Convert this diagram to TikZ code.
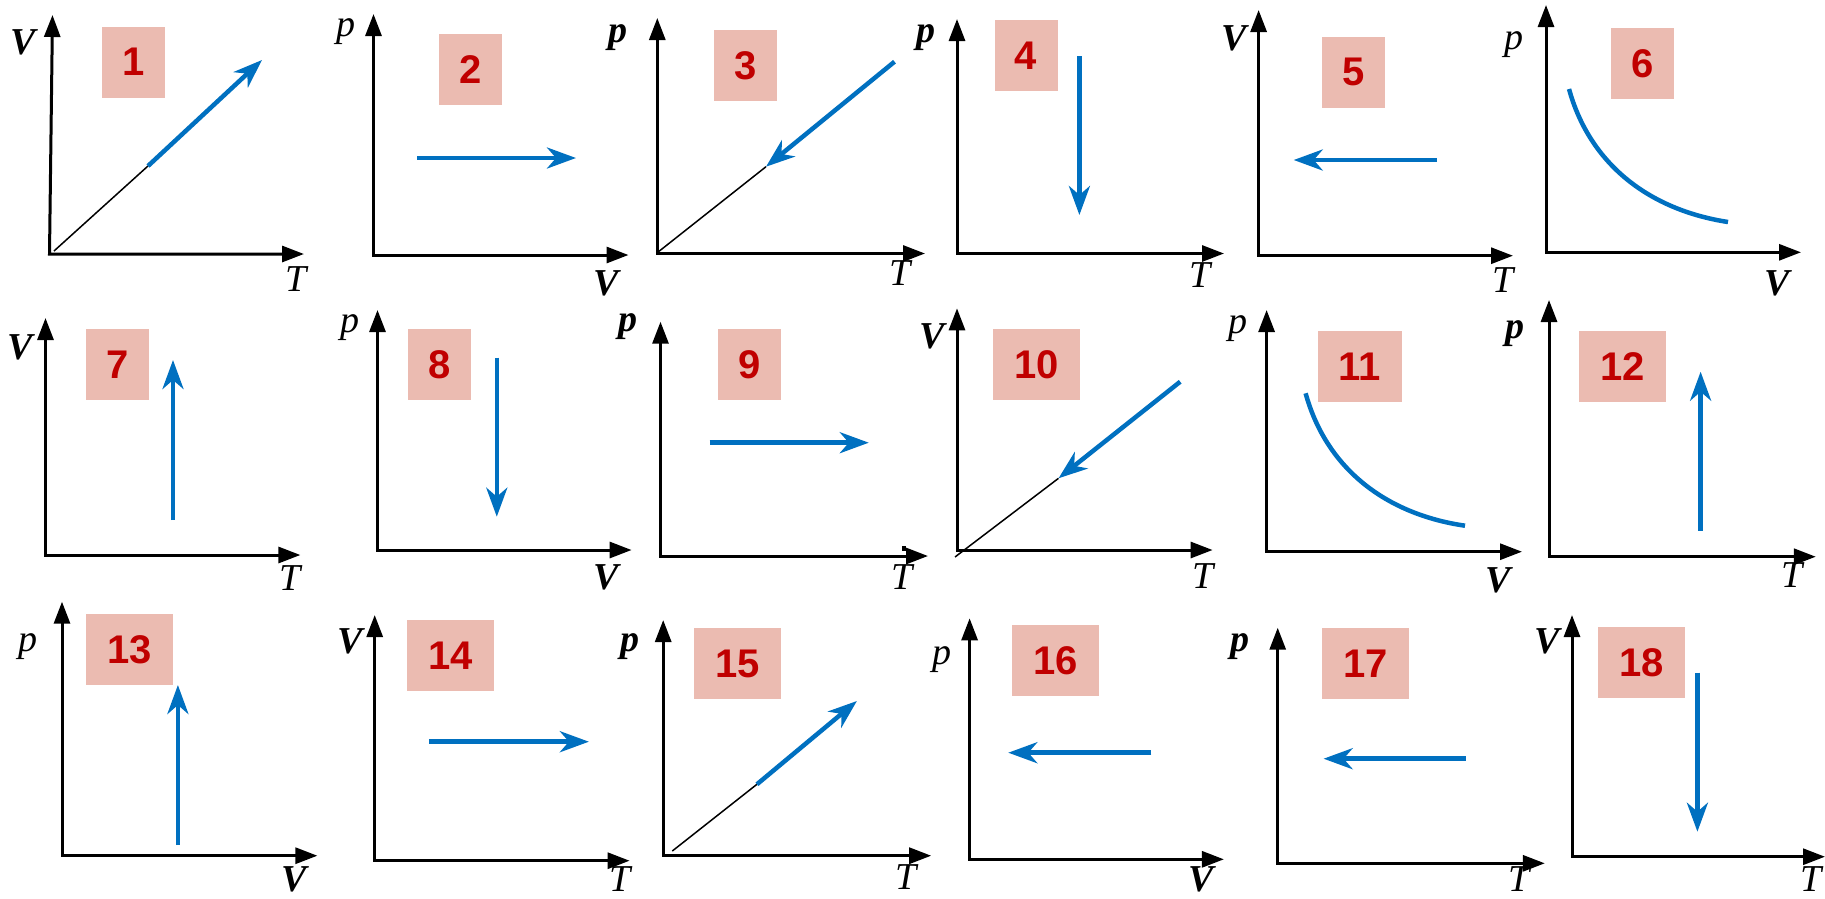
\documentclass[tikz,border=0pt]{standalone}
\usepackage{fontspec}
\newfontfamily\numfamily{Liberation Sans}
\newfontfamily\labfamily{Liberation Serif}
\usetikzlibrary{arrows.meta}
\definecolor{pblue}{HTML}{0070C0}
\definecolor{boxpink}{HTML}{EBBBB1}
\definecolor{numred}{HTML}{C00000}
\tikzset{
  axis/.style={line width=3pt, line join=miter, black,
    {Triangle[length=22pt,width=16pt]}-{Triangle[length=22pt,width=16pt]}},
  proc/.style={line width=4.5pt, pblue, -{Stealth[length=29pt,width=21pt,inset=9pt]}},
  curv/.style={line width=4.5pt, pblue},
  guide/.style={line width=1.5pt, black},
  numbox/.style={fill=boxpink, minimum width=63pt, minimum height=71pt, inner sep=0pt,
    text=numred, font=\numfamily\bfseries\fontsize{40}{48}\selectfont},
  widebox/.style={numbox, minimum width=87pt},
  lab/.style={inner sep=0pt, font=\labfamily\itshape\fontsize{38}{44}\selectfont},
  blab/.style={inner sep=0pt, font=\labfamily\itshape\bfseries\fontsize{38}{44}\selectfont}
}
\newcommand\mkaxes[4]{%
  \coordinate (#1o) at #2; \coordinate (#1y) at #3; \coordinate (#1x) at #4;
  \draw[axis] (#1y) -- (#1o) -- (#1x);}
\begin{document}
\begin{tikzpicture}[x=1pt,y=-1pt]
\useasboundingbox (0,0) rectangle (1825,898);
% ---------- Row 1 ----------
% Panel 1
\mkaxes{a1}{(49.5,254)}{(52.5,15)}{(304,254)}
\node[blab] (a1v) at (23,42.5) {V};
\node[lab] (a1t) at (296,279) {T};
\node[numbox] (b1) at (133.4,62.2) {1};
\coordinate (g1a) at (54,251); \coordinate (g1b) at (148,166); \coordinate (g1c) at (262,60);
\draw[guide] (g1a) -- (g1b);
\draw[proc] (g1b) -- (g1c);
% Panel 2
\mkaxes{a2}{(373.5,255)}{(373.5,14)}{(628.5,255)}
\node[lab] (a2p) at (346,32) {p};
\node[blab] (a2v) at (606,283) {V};
\node[numbox] (b2) at (470.4,69.5) {2};
\coordinate (g2a) at (417,158); \coordinate (g2b) at (576,158);
\draw[proc] (g2a) -- (g2b);
% Panel 3
\mkaxes{a3}{(657.3,253.5)}{(657.3,18)}{(925,253.5)}
\node[blab] (a3p) at (618,38) {p};
\node[lab] (a3t) at (900,273) {T};
\node[numbox] (b3) at (745.4,65.9) {3};
\coordinate (g3a) at (658.5,251.7); \coordinate (g3b) at (766,166.7); \coordinate (g3c) at (894.5,61.7);
\draw[guide] (g3a) -- (g3b);
\draw[proc] (g3c) -- (g3b);
% Panel 4
\mkaxes{a4}{(957,253.5)}{(957,19)}{(1224,253.5)}
\node[blab] (a4p) at (926,38) {p};
\node[lab] (a4t) at (1200,275) {T};
\node[numbox] (b4) at (1026.1,55.4) {4};
\coordinate (g4a) at (1079.4,56); \coordinate (g4b) at (1079.4,215);
\draw[proc] (g4a) -- (g4b);
% Panel 5
\mkaxes{a5}{(1258.6,255.7)}{(1258.6,10)}{(1513,255.7)}
\node[blab] (a5v) at (1234,38) {V};
\node[lab] (a5t) at (1503,280) {T};
\node[numbox] (b5) at (1353.5,72.2) {5};
\coordinate (g5a) at (1437,160); \coordinate (g5b) at (1293.7,160);
\draw[proc] (g5a) -- (g5b);
% Panel 6
\mkaxes{a6}{(1546,252.3)}{(1546,5)}{(1801,252.3)}
\node[lab] (a6p) at (1514,45) {p};
\node[blab] (a6v) at (1777,283) {V};
\node[numbox] (b6) at (1642.2,63.8) {6};
\coordinate (g6a) at (1569,89); \coordinate (g6b) at (1728,222);
\draw[curv] (g6a) .. controls (1590,165) and (1650,210) .. (g6b);
% ---------- Row 2 ----------
% Panel 7
\mkaxes{a7}{(45.5,555)}{(45.5,318)}{(300.4,555)}
\node[blab] (a7v) at (20,347) {V};
\node[lab] (a7t) at (290.5,578) {T};
\node[numbox] (b7) at (117.4,364.5) {7};
\coordinate (g7a) at (173,520); \coordinate (g7b) at (173,360);
\draw[proc] (g7a) -- (g7b);
% Panel 8
\mkaxes{a8}{(377.5,550)}{(377.5,310)}{(631.6,550)}
\node[lab] (a8p) at (350,328) {p};
\node[blab] (a8v) at (606,577) {V};
\node[numbox] (b8) at (439.2,364.9) {8};
\coordinate (g8a) at (496.8,357.7); \coordinate (g8b) at (496.8,516.7);
\draw[proc] (g8a) -- (g8b);
% Panel 9
\mkaxes{a9}{(660.5,556)}{(660.5,321.7)}{(928,556)}
\node[blab] (a9p) at (627.5,326.5) {p};
\node[lab] (a9t) at (902.4,576.7) {T};
\node[numbox] (b9) at (749.4,364.9) {9};
\coordinate (g9a) at (709.5,442.7); \coordinate (g9b) at (868.8,442.7);
\draw[proc] (g9a) -- (g9b);
\fill[black] (902,546) rectangle (906,551);
% Panel 10
\mkaxes{a10}{(957,550)}{(957,308.3)}{(1212.6,550)}
\node[blab] (a10v) at (932,336.7) {V};
\node[lab] (a10t) at (1202.8,576) {T};
\node[widebox] (b10) at (1036.4,364.9) {10};
\coordinate (g10a) at (955,557); \coordinate (g10b) at (1058.5,478.3); \coordinate (g10c) at (1180.2,381.7);
\draw[guide] (g10a) -- (g10b);
\draw[proc] (g10c) -- (g10b);
% Panel 11
\mkaxes{a11}{(1266.6,551.7)}{(1266.6,310)}{(1522,551.7)}
\node[lab] (a11p) at (1238,328.3) {p};
\node[blab] (a11v) at (1498,580) {V};
\node[widebox, minimum width=84pt] (b11) at (1360,366.4) {11};
\coordinate (g11a) at (1305.6,393.3); \coordinate (g11b) at (1465,525.7);
\draw[curv] (g11a) .. controls (1326.6,469.3) and (1386.6,514.3) .. (g11b);
% Panel 12
\mkaxes{a12}{(1549,556.7)}{(1549,300)}{(1815.8,556.7)}
\node[blab] (a12p) at (1515,333.3) {p};
\node[lab] (a12t) at (1792,575) {T};
\node[widebox] (b12) at (1622.5,366.4) {12};
\coordinate (g12a) at (1700.6,530.7); \coordinate (g12b) at (1700.6,371.7);
\draw[proc] (g12a) -- (g12b);
% ---------- Row 3 ----------
% Panel 13
\mkaxes{a13}{(62,855.7)}{(62,601.7)}{(317.4,855.7)}
\node[lab] (a13p) at (27.7,646.7) {p};
\node[blab] (a13v) at (294.5,879) {V};
\node[widebox] (b13) at (129.5,649.5) {13};
\coordinate (g13a) at (177.9,845); \coordinate (g13b) at (177.9,685);
\draw[proc] (g13a) -- (g13b);
% Panel 14
\mkaxes{a14}{(374.7,860.7)}{(374.7,615)}{(629.6,860.7)}
\node[blab] (a14v) at (349.8,641.7) {V};
\node[lab] (a14t) at (619.8,879) {T};
\node[widebox] (b14) at (450.6,655.4) {14};
\coordinate (g14a) at (428.9,741.7); \coordinate (g14b) at (588.9,741.7);
\draw[proc] (g14a) -- (g14b);
% Panel 15
\mkaxes{a15}{(663.2,855.7)}{(663.2,620)}{(931.2,855.7)}
\node[blab] (a15p) at (629.6,646.7) {p};
\node[lab] (a15t) at (906.3,876.7) {T};
\node[widebox] (b15) at (737.5,663.7) {15};
\coordinate (g15a) at (672.3,851); \coordinate (g15b) at (756.9,784.3); \coordinate (g15c) at (856.9,701);
\draw[guide] (g15a) -- (g15b);
\draw[proc] (g15b) -- (g15c);
% Panel 16
\mkaxes{a16}{(969.6,859.3)}{(969.6,618.3)}{(1223.9,859.3)}
\node[lab] (a16p) at (941.9,660) {p};
\node[blab] (a16v) at (1200.8,879) {V};
\node[widebox] (b16) at (1055.4,660.9) {16};
\coordinate (g16a) at (1151.4,752.7); \coordinate (g16b) at (1008.3,752.7);
\draw[proc] (g16a) -- (g16b);
% Panel 17
\mkaxes{a17}{(1277.7,863.3)}{(1277.7,627.7)}{(1544.8,863.3)}
\node[blab] (a17p) at (1239.9,646.7) {p};
\node[lab] (a17t) at (1518.8,879) {T};
\node[widebox] (b17) at (1365.4,663.4) {17};
\coordinate (g17a) at (1465.8,758.7); \coordinate (g17b) at (1323.6,758.7);
\draw[proc] (g17a) -- (g17b);
% Panel 18
\mkaxes{a18}{(1572,856.7)}{(1572,615)}{(1825,856.7)}
\node[blab] (a18v) at (1546.7,641.7) {V};
\node[lab] (a18t) at (1811,879) {T};
\node[widebox] (b18) at (1641.4,662.5) {18};
\coordinate (g18a) at (1697.4,672.7); \coordinate (g18b) at (1697.4,831.7);
\draw[proc] (g18a) -- (g18b);
\end{tikzpicture}
\end{document}
